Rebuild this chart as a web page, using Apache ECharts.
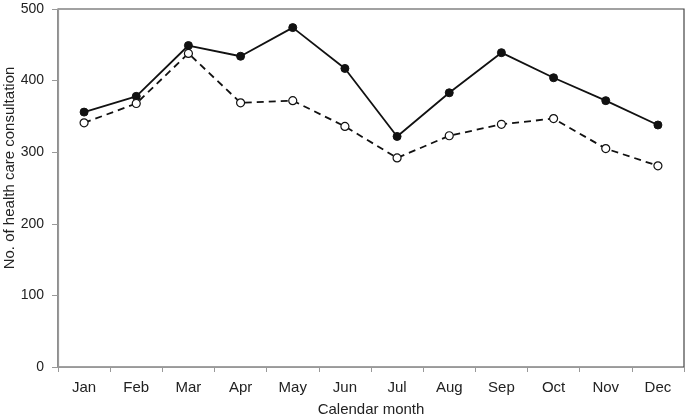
<!DOCTYPE html>
<html><head><meta charset="utf-8">
<script src="https://cdn.jsdelivr.net/npm/echarts@6/dist/echarts.min.js"></script>
<style>html,body{margin:0;padding:0;background:#fff}#c{width:685px;height:419px}</style>
</head><body><div id="c"></div>
<script>
const months = ['Jan','Feb','Mar','Apr','May','Jun','Jul','Aug','Sep','Oct','Nov','Dec'];
const solidSeries = [356, 378, 449, 434, 474, 417, 322, 383, 439, 404, 372, 338];
const dashedSeries = [341, 368, 438, 369, 372, 336, 292, 323, 339, 347, 305, 281];
const yTicks = [0, 100, 200, 300, 400, 500];

const chart = echarts.init(document.getElementById('c'), null, {renderer:'canvas'});
const font = 'Liberation Sans, Arial, sans-serif';
chart.setOption({
  animation:false,
  backgroundColor:'#fff',
  grid:{left:58, right:1, top:9, bottom:52, containLabel:false, outerBoundsMode:'none',
        show:true, borderColor:'#444', borderWidth:1.2, backgroundColor:'transparent'},
  xAxis:{
    type:'category', data:months, boundaryGap:true,
    name:'Calendar month', nameLocation:'middle', nameGap:35, nameMoveOverlap:false,
    nameTextStyle:{fontFamily:font, fontSize:15, color:'#222'},
    axisLine:{lineStyle:{color:'#999', width:1.2}},
    axisTick:{show:true, length:5, lineStyle:{color:'#999'}},
    axisLabel:{fontFamily:font, fontSize:15, color:'#222', margin:13}
  },
  yAxis:{
    type:'value', min:yTicks[0], max:yTicks[yTicks.length-1], interval:100,
    name:'No. of health care consultation', nameLocation:'middle', nameGap:41, nameMoveOverlap:false,
    nameTextStyle:{fontFamily:font, fontSize:15, color:'#222', padding:[0,0,0,40]},
    axisLine:{show:true, lineStyle:{color:'#999', width:1.2}},
    axisTick:{show:true, length:6, lineStyle:{color:'#999'}},
    splitLine:{show:false},
    axisLabel:{fontFamily:font, fontSize:14, color:'#222', margin:14}
  },
  series:[
    {type:'line', data:solidSeries, symbol:'circle', symbolSize:8,
     lineStyle:{color:'#111', width:1.8}, itemStyle:{color:'#111', borderColor:'#111'}},
    {type:'line', data:dashedSeries, symbol:'circle', symbolSize:8,
     lineStyle:{color:'#111', width:1.8, type:[7,5]}, itemStyle:{color:'#fff', borderColor:'#111', borderWidth:1.2}}
  ]
});
</script></body></html>
